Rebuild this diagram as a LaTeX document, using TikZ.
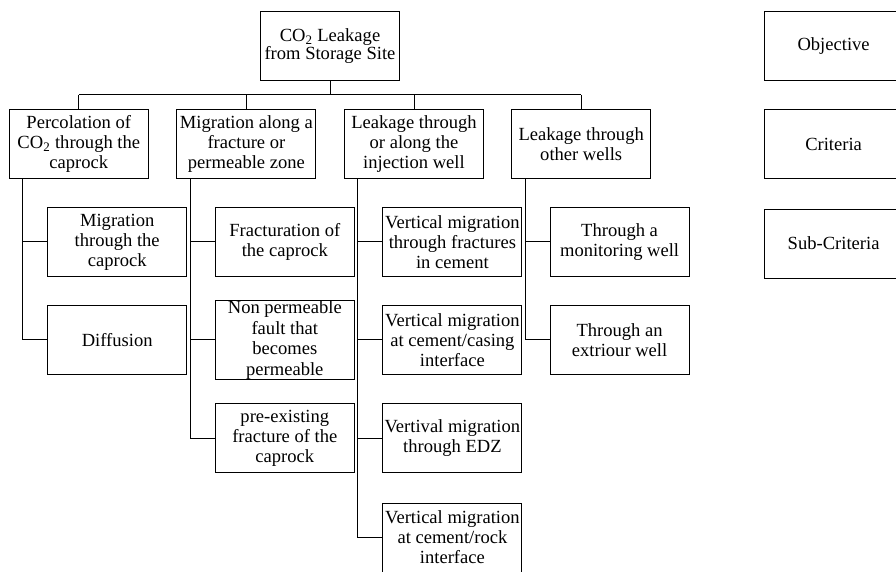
\documentclass[tikz,border=0pt]{standalone}
\usepackage{fontspec}
\setmainfont{Liberation Serif}
\tikzset{
    box/.style={draw, line width=0.75pt, minimum width=3.475cm, minimum height=1.725cm,
        inner sep=0pt, align=center, font=\fontsize{13.2}{14.2}\selectfont},
    link/.style={line width=0.7pt}
}
\begin{document}
\begin{tikzpicture}

% \draw[step=1cm,gray,very thin] (0,0) grid (22.4,14.3);
        \useasboundingbox (0,0) rectangle (22.4,14.3);

        \node (goal) [box, font=\fontsize{13.2}{12.8}\selectfont] at (8.25,13.15) {CO\textsubscript{2} Leakage\\from Storage Site};

        \node (perc) [box] at (1.97,10.7) {Percolation of\\CO\textsubscript{2} through the\\caprock};
        \node (frac) [box] at (6.16,10.7) {Migration along a\\fracture or\\permeable zone};
        \node (inj) [box] at (10.35,10.7) {Leakage through\\or along the\\injection well};
        \node (other) [box] at (14.53,10.7) {Leakage through\\other wells};

        \node (perc_a) [box] at (2.93,8.25) {Migration\\through the\\caprock};
        \node (perc_b) [box] at (2.93,5.8) {Diffusion};

        \node (frac_a) [box] at (7.12,8.25) {Fracturation of\\the caprock};
        \node (frac_b) [box, font=\fontsize{13.2}{14.8}\selectfont] at (7.12,5.8) {Non permeable\\fault that\\becomes\\permeable};
        \node (frac_c) [box] at (7.12,3.35) {pre-existing\\fracture of the\\caprock};

        \node (inj_a) [box] at (11.31,8.25) {Vertical migration\\through fractures\\in cement};
        \node (inj_b) [box] at (11.31,5.8) {Vertical migration\\at cement/casing\\interface};
        \node (inj_c) [box] at (11.31,3.35) {Vertival migration\\through EDZ};
        \node (inj_d) [box] at (11.31,0.86) {Vertical migration\\at cement/rock\\interface};

        \node (other_a) [box] at (15.49,8.25) {Through a\\monitoring well};
        \node (other_b) [box] at (15.49,5.8) {Through an\\extriour well};

        % legend
        \node (obj_key) [box] at (20.84,13.15) {Objective};
        \node (crit_key) [box] at (20.84,10.69) {Criteria};
        \node (sub_key) [box] at (20.84,8.21) {Sub-Criteria};

        % bus under the objective
        \coordinate (bus) at (8.25,11.925);
        \draw [link] (goal.south) -- (bus);
        \draw [link] (bus -| perc.north) -- (bus -| other.north);
        \foreach \c in {perc,frac,inj,other}
            \draw [link] (bus -| \c.north) -- (\c.north);

        % trunks down to the sub-criteria
        \foreach \c in {perc,frac,inj,other}
            \coordinate (\c_t) at ([xshift=0.35cm]\c.south west);
        \draw [link] (perc_t) |- (perc_b.west);
        \draw [link] (perc_t |- perc_a.west) -- (perc_a.west);
        \draw [link] (frac_t) |- (frac_c.west);
        \foreach \s in {a,b}
            \draw [link] (frac_t |- frac_\s.west) -- (frac_\s.west);
        \draw [link] (inj_t) |- (inj_d.west);
        \foreach \s in {a,b,c}
            \draw [link] (inj_t |- inj_\s.west) -- (inj_\s.west);
        \draw [link] (other_t) |- (other_b.west);
        \draw [link] (other_t |- other_a.west) -- (other_a.west);

    \end{tikzpicture}
\end{document}
